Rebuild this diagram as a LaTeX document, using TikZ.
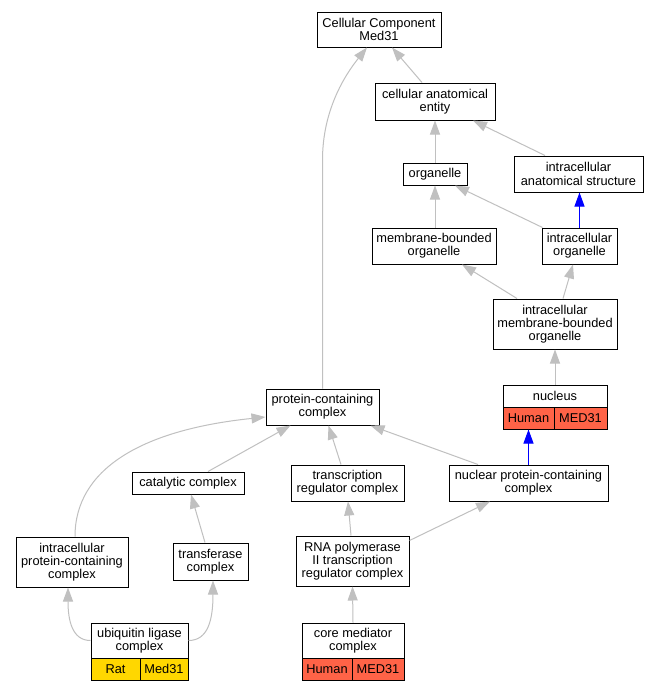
\documentclass[tikz,border=0pt]{standalone}
\usepackage{fontspec}
\setmainfont{Liberation Sans}
\usetikzlibrary{arrows.meta}
\definecolor{edgegrey}{HTML}{C0C0C0}
\definecolor{human}{HTML}{FF6347}
\definecolor{rat}{HTML}{FFD700}
\begin{document}
\begin{tikzpicture}[x=1pt,y=-1pt,
  box/.style={draw=black, line width=1pt, fill=white, align=center, inner sep=0pt,
    font=\fontsize{12.8}{13.3}\selectfont},
  cell/.style={box, minimum height=22pt},
  edge/.style={draw=edgegrey, line width=1pt, -{Triangle[length=14pt,width=10pt]}},
  blueedge/.style={edge, draw=blue}]
\fill[white] (0,0) rectangle (659,691);
\useasboundingbox (0,0) rectangle (659,691);

% nodes
\node[box, minimum width=124pt, minimum height=35pt] (cc) at (379,29.5) {Cellular Component\\Med31};
\node[box, minimum width=120pt, minimum height=37pt] (cae) at (435,101.5) {cellular anatomical\\entity};
\node[box, minimum width=64pt, minimum height=22pt] (org) at (435,174) {organelle};
\node[box, minimum width=129pt, minimum height=36pt] (ias) at (578.5,174) {intracellular\\anatomical structure};
\node[box, minimum width=124pt, minimum height=36pt] (mbo) at (434,246) {membrane-bounded\\organelle};
\node[box, minimum width=75pt, minimum height=36pt] (io) at (579.5,246) {intracellular\\organelle};
\node[box, minimum width=124pt, minimum height=50pt] (imbo) at (555,324) {intracellular\\membrane-bounded\\organelle};
\node[box, minimum width=104pt, minimum height=22pt] (nuc) at (555,396) {nucleus};
\node[cell, fill=human, minimum width=51pt] (nuch) at (528.5,418) {Human};
\node[cell, fill=human, minimum width=53pt] (nucm) at (580.5,418) {MED31};
\node[box, minimum width=113pt, minimum height=36pt] (pcc) at (322.5,407) {protein-containing\\complex};
\node[box, minimum width=113pt, minimum height=36pt] (trc) at (347.5,483) {transcription\\regulator complex};
\node[box, minimum width=159pt, minimum height=36pt] (npcc) at (528.5,483) {nuclear protein-containing\\complex};
\node[box, minimum width=112pt, minimum height=22pt] (cat) at (188,483) {catalytic complex};
\node[box, minimum width=75pt, minimum height=37pt] (tc) at (210.5,561.5) {transferase\\complex};
\node[box, minimum width=112pt, minimum height=50pt] (ipcc) at (72,562) {intracellular\\protein-containing\\complex};
\node[box, minimum width=97pt, minimum height=35pt] (ubi) at (139.5,640.5) {ubiquitin ligase\\complex};
\node[cell, fill=rat, minimum width=49pt] (ubir) at (115.5,669) {Rat};
\node[cell, fill=rat, minimum width=48pt] (ubim) at (164,669) {Med31};
\node[box, minimum width=113pt, minimum height=50pt] (rna) at (352.5,561) {RNA polymerase\\II transcription\\regulator complex};
\node[box, minimum width=102pt, minimum height=35pt] (cmc) at (353,640.5) {core mediator\\complex};
\node[cell, fill=human, minimum width=50pt] (cmch) at (327,669) {Human};
\node[cell, fill=human, minimum width=52pt] (cmcm) at (378,669) {MED31};

% edges
\draw[edge] ([xshift=-13pt]cae.north) -- ([xshift=13pt]cc.south);
\draw[edge] (pcc.north) -- (322.5,160) .. controls (322.5,110) and (345,75) .. ([xshift=-12pt]cc.south);
\draw[edge] (org.north) -- (cae.south);
\draw[edge] ([xshift=-33.5pt]ias.north) -- ([xshift=38pt]cae.south);
\draw[edge] ([xshift=1pt]mbo.north) -- (org.south);
\draw[edge] ([xshift=1pt]io.north west) -- ([xshift=20pt]org.south);
\draw[blueedge] (io.north) -- (io.north |- ias.south);
\draw[edge] ([xshift=-38pt]imbo.north) -- ([xshift=28pt]mbo.south);
\draw[edge] ([xshift=8pt]imbo.north) -- ([xshift=-6.5pt]io.south);
\draw[edge] (nuc.north) -- (imbo.south);
\draw[blueedge] (npcc.north) -- (npcc.north |- nuch.south);
\draw[edge] ([xshift=-50.5pt]npcc.north) -- ([xshift=48pt]pcc.south);
\draw[edge] ([xshift=-6.5pt]trc.north) -- ([xshift=6pt]pcc.south);
\draw[edge] ([xshift=20pt]cat.north) -- ([xshift=-32pt]pcc.south);
\draw[edge] ([xshift=3pt]ipcc.north) .. controls (75,470) and (140,430) .. ([yshift=-10pt]pcc.west);
\draw[edge] ([xshift=-5.5pt]tc.north) -- ([xshift=3pt]cat.south);
\draw[edge] (ubi.west) .. controls (72,640.5) and (68,620) .. ([xshift=-4pt]ipcc.south);
\draw[edge] (ubi.east) .. controls (208,640.5) and (213,620) .. ([xshift=2.5pt]tc.south);
\draw[edge] ([xshift=-1.5pt]rna.north) -- ([xshift=0.5pt]trc.south);
\draw[edge] ([yshift=-5pt]rna.north east) -- ([xshift=-38.5pt]npcc.south);
\draw[edge] (cmc.north) -- (rna.south);
\end{tikzpicture}
\end{document}
